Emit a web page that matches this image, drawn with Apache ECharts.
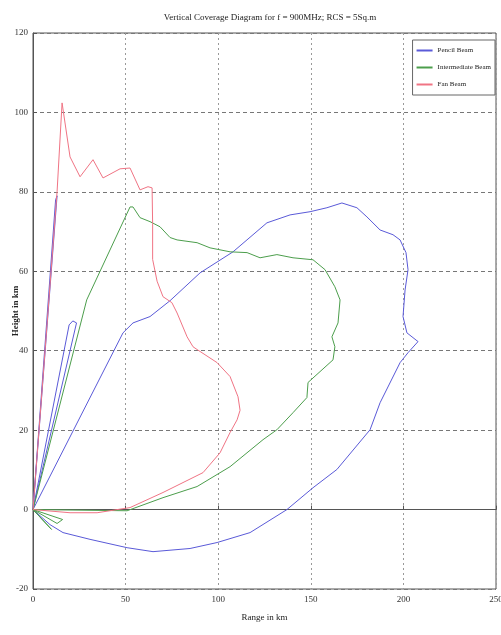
<!DOCTYPE html>
<html>
<head>
<meta charset="utf-8">
<script src="https://cdn.jsdelivr.net/npm/echarts@6/dist/echarts.min.js"></script>
<style>
html,body{margin:0;padding:0;background:#fff;}
#chart{width:501px;height:635px;}
</style>
</head>
<body>
<div id="chart"></div>
<script>
var titleText = "Vertical Coverage Diagram for f = 900MHz; RCS = 5Sq.m";
var seriesNames = ["Pencil Beam", "Intermediate Beam", "Fan Beam"];
var xRange = [0, 250, 50];
var yRange = [-20, 120, 20];

var pencilBeam = [
  [0,0],[13,79],[12.2,78],[0,0],[19.5,46.5],[21.5,47.5],[23.5,47],[0,0],
  [48.6,44.5],[54,47],[63.2,48.6],[74,52.6],[90.2,59.6],[108,64.9],[126.3,72.2],
  [138.8,74.2],[149.6,75],[158.7,76],[166.8,77.2],[174.9,76],[180.3,73.7],
  [187.4,70.4],[194.4,69.2],[198.2,67.9],[201.4,64.7],[202.5,60.4],[200.9,55.3],
  [199.8,48.6],[201.9,44.5],[207.9,42.3],[202.5,39.5],[198.2,37],[187.4,26.9],
  [182,20.1],[164.1,10.1],[151.2,5.5],[137.1,0],[117.2,-5.8],[99.4,-8.3],
  [84.8,-9.8],[64.8,-10.6],[50.8,-9.6],[30.8,-7.5],[16.2,-5.8],[9.2,-3.8],[0,0]
];

var intermediateBeam = [
  [0,0],[16,-2.5],[13,-3.5],[0,0],[10,-5],[0,0],[50.8,-0.3],[70.2,3],[88.6,5.8],
  [106.4,10.8],[124.2,17.6],[131.7,20.1],[140.4,24.4],[147.9,28.2],[148.5,32],
  [162,37.7],[163,41],[161.4,43.5],[164.7,47],[165.8,52.8],[163,56.1],
  [157.7,60.4],[151.2,62.9],[140.4,63.4],[131.7,64.2],[122.6,63.4],[115.6,64.7],
  [106.4,64.9],[95.6,65.9],[88.6,67.2],[77.8,67.9],[74,68.5],[68.6,71.2],
  [63.2,72.5],[57.8,73.5],[54,76.2],[52.4,76.2],[29,52.8],[0,0]
];

var fanBeam = [
  [0,0],[13,80],[15.7,102.4],[20,88.8],[25.4,83.8],[32.4,88.1],[37.8,83.5],
  [47,85.8],[52.4,86],[57.8,80.5],[62.1,81.3],[64.3,81],[64.6,72],[64.6,63],
  [67,57.5],[70.2,53.6],[75,52.1],[77.8,49.5],[83.2,43.5],[86.4,41],[88.6,40.3],
  [99.4,37],[106.4,33.5],[110.7,28.4],[111.8,25],[110.2,22.6],[106.4,19.4],
  [101,14.3],[91.8,9.3],[81,6.8],[70.2,4.3],[52.4,0.5],[34.6,-0.8],[20,-0.8],[0,0]
];

var colors = ["#5a5ad8", "#4c9e4c", "#f07484"];
var fontFam = "Liberation Serif";

var chart = echarts.init(document.getElementById('chart'));
function mk(name, data, color) {
  return {
    name: name, type: 'line', data: data, showSymbol: false, symbol: 'none',
    lineStyle: {color: color, width: 1}, itemStyle: {color: color},
    animation: false, silent: true
  };
}
chart.setOption({
  animation: false,
  backgroundColor: '#fff',
  title: {
    text: titleText, left: 265, top: 8, textAlign: 'center',
    textStyle: {fontFamily: fontFam, fontSize: 9, fontWeight: 'normal', color: '#222'}
  },
  legend: {
    orient: 'vertical', right: 6, top: 40,
    backgroundColor: '#fff', borderColor: '#666', borderWidth: 1,
    padding: [7, 4, 7, 4], itemGap: 10, itemWidth: 16, itemHeight: 2,
    icon: 'rect',
    textStyle: {fontFamily: fontFam, fontSize: 7, color: '#222'},
    data: seriesNames
  },
  grid: {left: 33, right: 5, top: 33, bottom: 46, outerBoundsMode: 'none', containLabel: false,
    show: true, borderColor: '#555', borderWidth: 1, backgroundColor: '#fff'},
  xAxis: {
    type: 'value', min: xRange[0], max: xRange[1], interval: xRange[2],
    name: 'Range in km', nameLocation: 'middle', nameGap: 24,
    nameTextStyle: {fontFamily: fontFam, fontSize: 9, color: '#222'},
    axisLine: {show: true, lineStyle: {color: '#555'}},
    axisTick: {show: true, inside: true, length: 4, lineStyle: {color: '#555'}},
    axisLabel: {fontFamily: fontFam, fontSize: 9, color: '#333', margin: 6},
    splitLine: {show: true, lineStyle: {color: '#999', type: [2, 3], width: 1}}
  },
  yAxis: {
    type: 'value', min: yRange[0], max: yRange[1], interval: yRange[2],
    name: 'Height in km', nameLocation: 'middle', nameGap: 13, nameMoveOverlap: false,
    nameTextStyle: {fontFamily: fontFam, fontSize: 9, fontWeight: 'bold', color: '#222'},
    axisLine: {show: true, lineStyle: {color: '#555'}},
    axisTick: {show: true, inside: true, length: 4, lineStyle: {color: '#555'}},
    axisLabel: {fontFamily: fontFam, fontSize: 9, color: '#333', margin: 5},
    splitLine: {show: true, lineStyle: {color: '#777', type: [4, 3], width: 1}}
  },
  series: [
    mk(seriesNames[0], pencilBeam, colors[0]),
    mk(seriesNames[1], intermediateBeam, colors[1]),
    mk(seriesNames[2], fanBeam, colors[2])
  ]
});
</script>
</body>
</html>
